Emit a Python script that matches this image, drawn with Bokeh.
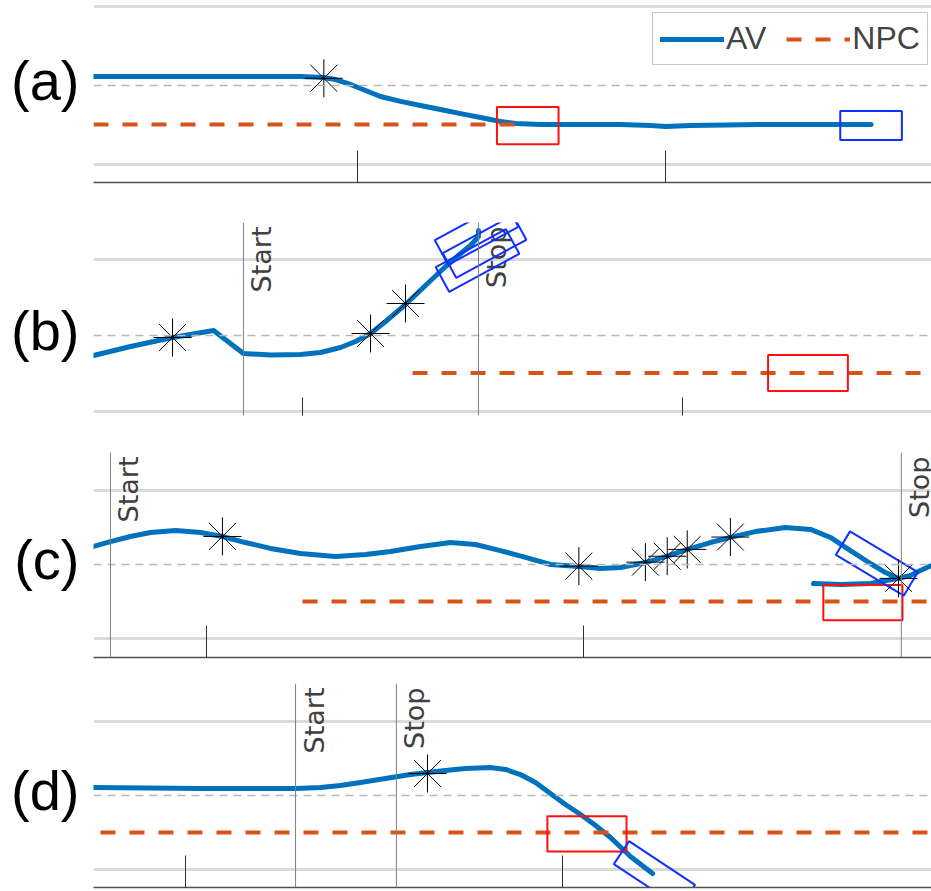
import numpy as np
from bokeh.plotting import figure
from bokeh.layouts import column
from bokeh.models import Range1d, FixedTicker, Span, Legend, LegendItem
from bokeh.core.properties import value
from bokeh.embed import file_html
from bokeh.resources import INLINE

# ---------------- data: x = longitudinal position (m), y = lateral offset (m) ----------------
ROAD_EDGES = [-3.8, 3.8]
VEH_LEN = 4.2
AV_WID = 1.4
NPC_WID = 1.8
TAG_Y = 0.25

# (a)
a_av_x = [2.0, 9.3, 16.1, 17.68, 18.50, 19.52, 20.54, 21.56, 22.93, 24.29, 25.65, 27.02, 28.38, 29.74,
          30.77, 32.47, 35.20, 37.92, 39.97, 40.99, 42.70, 47.47, 52.97, 55.0]
a_av_y = [0.44, 0.44, 0.44, 0.39, 0.29, 0.05, -0.24, -0.53, -0.77, -0.97, -1.16, -1.36, -1.55, -1.74,
          -1.84, -1.89, -1.89, -1.89, -1.94, -1.98, -1.94, -1.89, -1.89, -1.89]
a_npc_x = [2.0, 31.6]
a_npc_y = [-1.89, -1.89]
a_star_x = [17.7]
a_star_y = [0.35]
a_npcbox_x, a_npcbox_y, a_npcbox_hdg = [31.6], [-1.94], [0.0]
a_avbox_x, a_avbox_y, a_avbox_hdg = [55.0], [-1.94], [0.0]
a_events_x, a_events_txt = [], []
a_ticks = [20, 41]

# (b)
b_av_x = [9.0, 10.95, 13.16, 15.32, 16.89, 18.32, 19.89, 20.95, 22.0, 22.79, 23.58, 24.37, 25.42,
          26.47, 27.53, 28.32, 28.84, 29.26, 29.26]
b_av_y = [-1.0, -0.55, -0.1, 0.25, -0.9, -0.97, -0.95, -0.85, -0.6, -0.3, 0.1, 0.7, 1.55,
          2.5, 3.45, 4.1, 4.5, 4.95, 5.25]
b_npc_x = [25.79, 53.3]
b_npc_y = [-1.87, -1.87]
b_star_x = [13.16, 23.58, 25.42]
b_star_y = [-0.1, 0.1, 1.6]
b_npcbox_x, b_npcbox_y, b_npcbox_hdg = [46.6], [-1.87], [0.0]
b_avbox_x, b_avbox_y, b_avbox_hdg = [29.16, 29.58, 29.21], [5.1, 4.45, 3.75], [28.5, 28.5, 28.5]
b_events_x, b_events_txt = [16.89, 29.26], ["Start", "Stop"]
b_ticks = [20, 40]

# (c)
c_av_x = [14.0, 14.90, 15.96, 17.02, 18.35, 19.68, 20.84, 22.06, 23.39, 24.98, 26.84, 28.43, 29.76,
          31.35, 32.94, 34.27, 35.59, 36.92, 38.25, 39.73, 40.90, 41.96, 43.28, 44.40, 45.51, 46.73,
          47.79, 49.12, 50.71, 52.04, 53.10, 54.16, 55.22, 56.02, 56.71, 57.34, 57.87, 58.46]
c_av_y = [0.92, 1.17, 1.43, 1.63, 1.73, 1.63, 1.43, 1.12, 0.82, 0.56, 0.41, 0.51, 0.66,
          0.92, 1.12, 1.02, 0.71, 0.36, 0.0, -0.10, -0.20, -0.15, 0.10, 0.41, 0.77, 1.12,
          1.38, 1.68, 1.89, 1.79, 1.38, 0.71, 0.05, -0.41, -0.71, -0.56, -0.31, -0.05]
c_av2_x = [52.20, 53.63, 55.22, 56.71]
c_av2_y = [-0.97, -1.02, -0.97, -0.71]
c_npc_x = [25.09, 58.6]
c_npc_y = [-1.89, -1.89]
c_star_x = [20.84, 39.75, 43.28, 44.44, 45.50, 47.79, 56.71]
c_star_y = [1.43, -0.08, 0.12, 0.42, 0.77, 1.40, -0.71]
c_npcbox_x, c_npcbox_y, c_npcbox_hdg = [54.82], [-1.94], [0.0]
c_avbox_x, c_avbox_y, c_avbox_hdg = [55.56], [0.05], [-31.0]
c_events_x, c_events_txt = [14.9, 56.86], ["Start", "Stop"]
c_ticks = [20, 40]

# (d)
d_av_x = [15.12, 20.80, 25.84, 27.16, 28.22, 29.28, 30.61, 31.94, 32.84, 33.79, 34.85, 36.18, 36.98,
          37.77, 38.57, 39.36, 40.16, 40.96, 41.76, 42.55, 43.61, 44.78]
d_av_y = [0.41, 0.36, 0.36, 0.41, 0.51, 0.66, 0.87, 1.07, 1.17, 1.28, 1.38, 1.43, 1.33,
          1.07, 0.66, 0.10, -0.46, -0.97, -1.53, -2.14, -3.11, -3.98]
d_npc_x = [15.49, 59.7]
d_npc_y = [-1.89, -1.89]
d_star_x = [32.84]
d_star_y = [1.12]
d_npcbox_x, d_npcbox_y, d_npcbox_hdg = [41.30], [-1.96], [0.0]
d_avbox_x, d_avbox_y, d_avbox_hdg = [44.88], [-4.03], [-33.5]
d_events_x, d_events_txt = [25.84, 31.19], ["Start", "Stop"]
d_ticks = [20, 40]

# ---------------- layout ----------------
FIG_W = 931
LEFT = 93
AV_COLOR = "#0072BD"
NPC_COLOR = "#D95319"


def panel(tag, height, b_top, b_bot, xr, yr, ticks, tick_len, axis_line,
          av_x, av_y, npc_x, npc_y, star_x, star_y,
          nb_x, nb_y, nb_h, ab_x, ab_y, ab_h, ev_x, ev_txt, extra_av=None):
    p = figure(width=FIG_W, height=height, x_range=Range1d(*xr), y_range=Range1d(*yr),
               output_backend="svg", toolbar_location=None,
               min_border_left=LEFT, min_border_right=0, min_border_top=b_top, min_border_bottom=b_bot)
    p.outline_line_color = None
    p.background_fill_color = "white"
    p.border_fill_color = "white"
    p.xgrid.visible = False
    p.ygrid.ticker = FixedTicker(ticks=ROAD_EDGES)
    p.ygrid.grid_line_color = "#dadada"
    p.ygrid.grid_line_width = 3

    # bottom axis: inward ticks only, no labels
    ax = p.xaxis[0]
    ax.ticker = FixedTicker(ticks=ticks)
    ax.major_tick_in = tick_len
    ax.major_tick_out = 0
    ax.minor_tick_in = 0
    ax.minor_tick_out = 0
    ax.major_tick_line_color = "#303030"
    ax.major_tick_line_width = 1
    ax.major_label_text_color = None
    ax.major_label_text_font_size = "0px"
    ax.major_label_standoff = 0
    ax.axis_line_color = "#505050" if axis_line else None
    ax.axis_line_width = 1.5

    # left axis: carries only the panel tag
    ay = p.yaxis[0]
    ay.ticker = FixedTicker(ticks=[TAG_Y])
    ay.major_label_overrides = {TAG_Y: tag}
    ay.major_tick_in = 0
    ay.major_tick_out = 0
    ay.minor_tick_in = 0
    ay.minor_tick_out = 0
    ay.axis_line_color = None
    ay.major_label_standoff = 14
    ay.major_label_text_font = "Liberation Sans"
    ay.major_label_text_font_size = "56px"
    ay.major_label_text_color = "black"

    p.add_layout(Span(location=0, dimension="width", line_color="#b8b8b8",
                      line_width=1.5, line_dash="8 6"))
    for ex in ev_x:
        p.add_layout(Span(location=ex, dimension="height", line_color="#808080", line_width=1))
    if ev_x:
        p.text(x=ev_x, y=[yr[1]] * len(ev_x), text=ev_txt, angle=np.pi / 2,
               text_align="right", text_baseline="top", x_offset=3, y_offset=4,
               text_font=value("DejaVu Sans"), text_font_size=value("27px"), text_color="#404040")

    av_r = p.line(av_x, av_y, line_color=AV_COLOR, line_width=5, line_join="round", line_cap="round")
    if extra_av is not None:
        p.line(extra_av[0], extra_av[1], line_color=AV_COLOR, line_width=5, line_join="round", line_cap="round")
    npc_r = p.line(npc_x, npc_y, line_color=NPC_COLOR, line_width=4, line_dash="15 14")

    p.rect(nb_x, nb_y, width=VEH_LEN, height=NPC_WID, angle=nb_h, angle_units="deg",
           fill_color=None, line_color="#ff1010", line_width=2)
    p.rect(ab_x, ab_y, width=VEH_LEN, height=AV_WID, angle=ab_h, angle_units="deg",
           fill_color=None, line_color="#1030ff", line_width=2)
    p.scatter(star_x, star_y, marker="asterisk", size=38, line_color="black", line_width=1)
    return p, av_r, npc_r


pa, av_ra, npc_ra = panel("(a)", 200, 0, 18, (2.0, 59.12), (-4.695, 4.114), a_ticks, 32, True,
                          a_av_x, a_av_y, a_npc_x, a_npc_y, a_star_x, a_star_y,
                          a_npcbox_x, a_npcbox_y, a_npcbox_hdg, a_avbox_x, a_avbox_y, a_avbox_hdg,
                          a_events_x, a_events_txt)
pb, _, _ = panel("(b)", 235, 22, 20, (9.0, 53.1), (-4.0, 5.65), b_ticks, 18, False,
                 b_av_x, b_av_y, b_npc_x, b_npc_y, b_star_x, b_star_y,
                 b_npcbox_x, b_npcbox_y, b_npcbox_hdg, b_avbox_x, b_avbox_y, b_avbox_hdg,
                 b_events_x, b_events_txt)
pc, _, _ = panel("(c)", 235, 17, 13, (14.0, 58.46), (-4.745, 5.714), c_ticks, 32, True,
                 c_av_x, c_av_y, c_npc_x, c_npc_y, c_star_x, c_star_y,
                 c_npcbox_x, c_npcbox_y, c_npcbox_hdg, c_avbox_x, c_avbox_y, c_avbox_hdg,
                 c_events_x, c_events_txt, extra_av=(c_av2_x, c_av2_y))
pd, _, _ = panel("(d)", 221, 13, 4, (15.12, 59.58), (-4.694, 5.714), d_ticks, 32, True,
                 d_av_x, d_av_y, d_npc_x, d_npc_y, d_star_x, d_star_y,
                 d_npcbox_x, d_npcbox_y, d_npcbox_hdg, d_avbox_x, d_avbox_y, d_avbox_hdg,
                 d_events_x, d_events_txt)

legend = Legend(items=[LegendItem(label="AV", renderers=[av_ra]),
                       LegendItem(label="NPC", renderers=[npc_ra])],
                orientation="horizontal", location=(559, 117),
                label_text_font="Liberation Sans", label_text_font_size="32px",
                glyph_width=64, glyph_height=30, label_standoff=2, spacing=20,
                padding=7, margin=0, border_line_color="#8c8c8c", border_line_width=1.5,
                background_fill_color="white", background_fill_alpha=1.0)
pa.add_layout(legend)

layout = column(pa, pb, pc, pd, spacing=0)
open("out.html", "w").write(file_html(layout, INLINE))
